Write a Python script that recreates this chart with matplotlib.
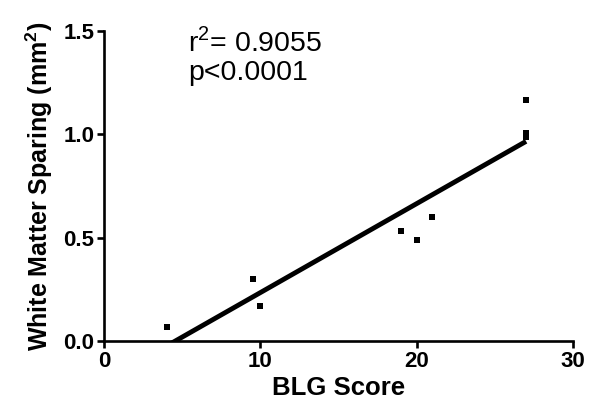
import numpy as np
import matplotlib
matplotlib.use("Agg")
import matplotlib.pyplot as plt

plt.rcParams['font.family'] = ['Liberation Sans', 'DejaVu Sans']
plt.rcParams['mathtext.fontset'] = 'custom'
plt.rcParams['mathtext.rm'] = 'Liberation Sans'
plt.rcParams['mathtext.bf'] = 'Liberation Sans:bold'

blg_score = [4, 9.5, 10, 19, 20, 21, 27, 27, 27]
wm_sparing = [0.07, 0.30, 0.17, 0.53, 0.49, 0.60, 1.165, 1.005, 0.985]
r2_text = "0.9055"
p_text = "p<0.0001"
x_ticks = [0, 10, 20, 30]
y_ticks = [0.0, 0.5, 1.0, 1.5]

fig = plt.figure(figsize=(6.02, 4.15), dpi=100)
ax = fig.add_axes([0.1728, 0.1783, 0.779, 0.747])

x = np.array(blg_score)
y = np.array(wm_sparing)
slope, intercept = np.polyfit(x, y, 1)
xl = np.array([x.min(), x.max()])
ax.plot(xl, slope * xl + intercept, color='black', lw=3.5, solid_capstyle='butt', zorder=2)
ax.scatter(x, y, marker='s', s=14, color='black', linewidths=0, zorder=3)

ax.set_xlim(0, 30)
ax.set_ylim(0, 1.5)
ax.set_xticks(x_ticks)
ax.set_yticks(y_ticks)
ax.set_xticklabels([str(v) for v in x_ticks], fontsize=16, fontweight='bold')
ax.set_yticklabels([f"{v:.1f}" for v in y_ticks], fontsize=16, fontweight='bold')
for s in ['top', 'right']:
    ax.spines[s].set_visible(False)
for s in ['left', 'bottom']:
    ax.spines[s].set_linewidth(1.9)
ax.tick_params(width=1.9, length=5, direction='out', pad=2)

ax.set_xlabel('BLG Score', fontsize=18.5, fontweight='bold', labelpad=3)
ax.set_ylabel(r'White Matter Sparing (mm$^{\mathbf{2}}$)', fontsize=18, fontweight='bold', labelpad=6)

fig.text(188/602, 1 - 51.7/415, r"r$^{\mathregular{2}}$= " + r2_text, fontsize=20.5, ha='left', va='baseline')
fig.text(188/602, 1 - 79.5/415, p_text, fontsize=20.5, ha='left', va='baseline')

fig.savefig('out.png', dpi=100)
